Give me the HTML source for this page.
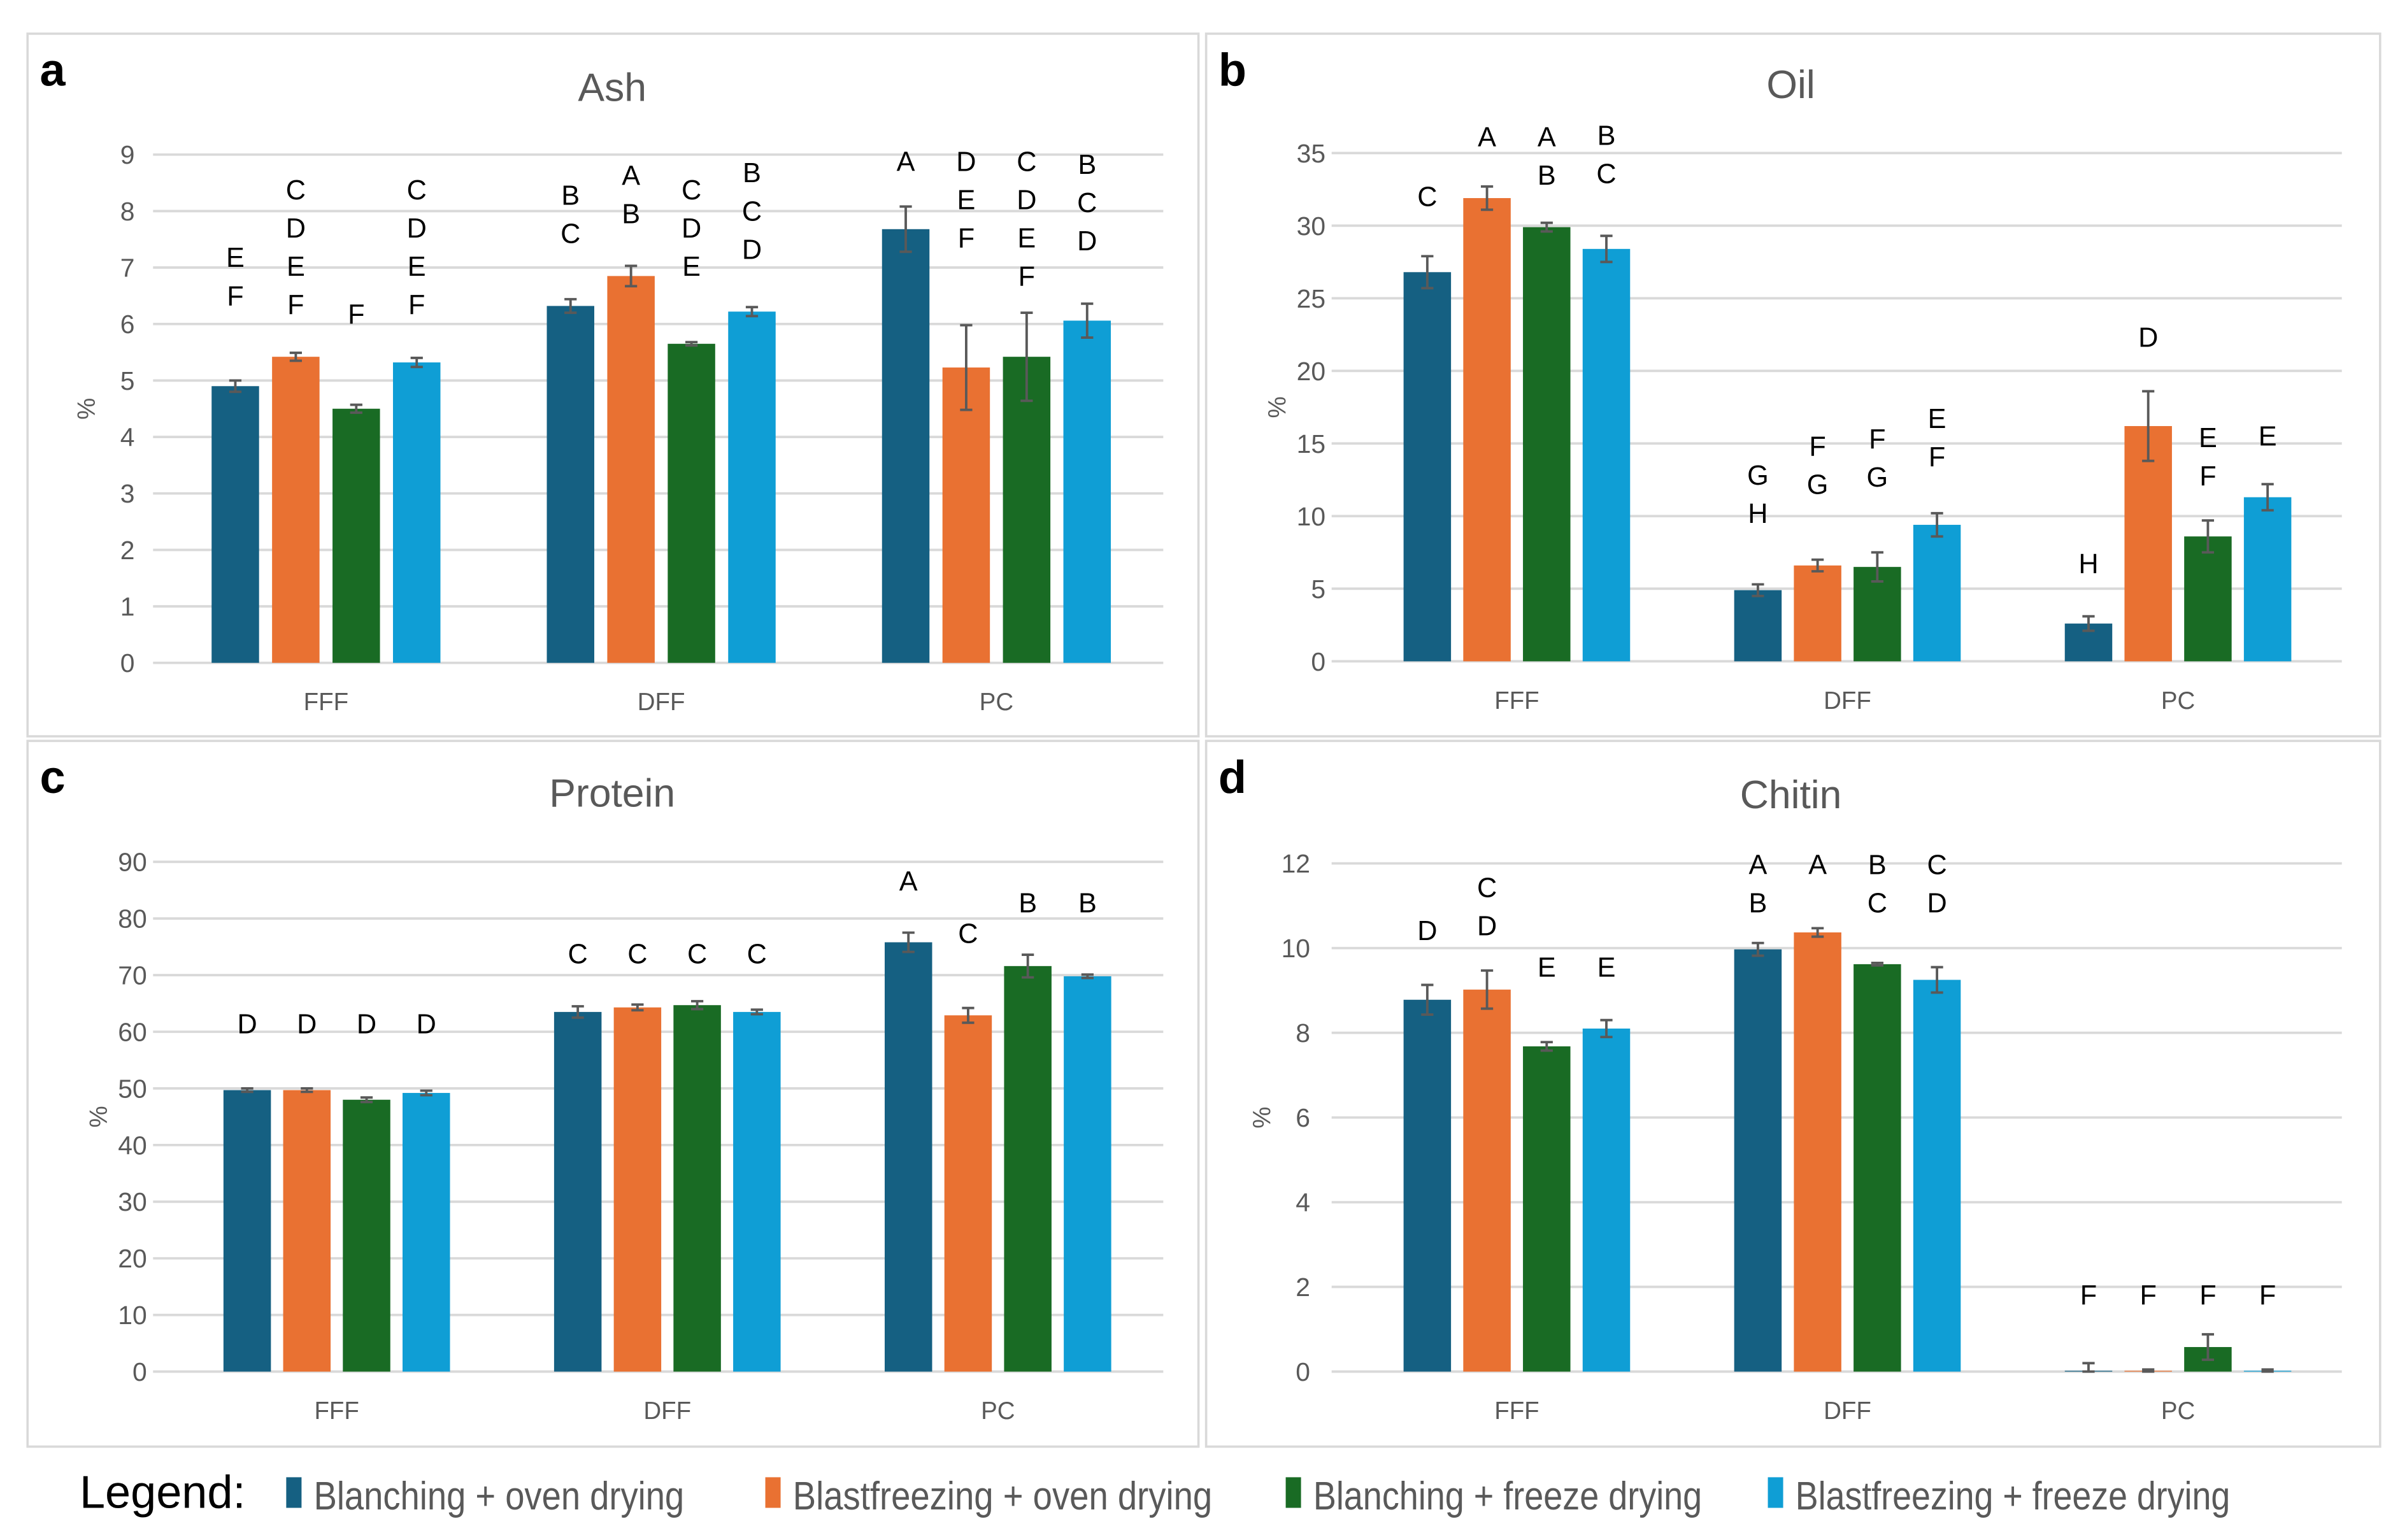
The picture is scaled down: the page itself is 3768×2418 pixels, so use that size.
<!DOCTYPE html>
<html><head><meta charset="utf-8"><style>
html,body{margin:0;padding:0;background:#fff;}
svg{display:block;}
text{font-family:"Liberation Sans Narrow","Liberation Sans",sans-serif;}
</style></head><body>
<svg id="fig" width="3768" height="2418" viewBox="0 0 1568 1006" preserveAspectRatio="none" xmlns="http://www.w3.org/2000/svg">
<rect x="0" y="0" width="1568" height="1006" fill="#fff"/>
<g id="root"></g>
</svg>
<script>
const categories = ["FFF","DFF","PC"];
const seriesNames = ["Blanching + oven drying","Blastfreezing + oven drying","Blanching + freeze drying","Blastfreezing + freeze drying"];
const colors = ["#156082","#E97132","#196B24","#0F9ED5"];

const ashValues = [[4.9,6.32,7.68],[5.42,6.85,5.23],[4.5,5.65,5.42],[5.32,6.22,6.06]];
const ashErrors = [[0.1,0.12,0.4],[0.07,0.18,0.75],[0.07,0.03,0.78],[0.08,0.08,0.3]];
const ashLetters = [["E F","B C","A"],["C D E F","A B","D E F"],["F","C D E","C D E F"],["C D E F","B C D","B C D"]];
const ashLetterTop = [[7.2,8.3,8.9],[8.4,8.65,8.9],[6.2,8.4,8.9],[8.4,8.7,8.85]];
const ashTicks = [0,1,2,3,4,5,6,7,8,9];

const oilValues = [[26.8,4.9,2.6],[31.9,6.6,16.2],[29.9,6.5,8.6],[28.4,9.4,11.3]];
const oilErrors = [[1.1,0.4,0.5],[0.8,0.4,2.4],[0.3,1.0,1.1],[0.9,0.8,0.9]];
const oilLetters = [["C","G H","H"],["A","F G","D"],["A B","F G","E F"],["B C","E F","E"]];
const oilLetterTop = [[32.1,12.9,6.8],[36.2,14.9,22.4],[36.2,15.4,15.5],[36.3,16.8,15.6]];
const oilTicks = [0,5,10,15,20,25,30,35];

const proteinValues = [[49.7,63.5,75.8],[49.7,64.3,62.9],[48.0,64.7,71.6],[49.2,63.5,69.8]];
const proteinErrors = [[0.3,1.0,1.7],[0.3,0.5,1.3],[0.4,0.7,2.0],[0.4,0.4,0.3]];
const proteinLetters = [["D","C","A"],["D","C","C"],["D","C","B"],["D","C","B"]];
const proteinLetterTop = [[61.6,74,86.8],[61.6,74,77.6],[61.6,74,83],[61.6,74,83]];
const proteinTicks = [0,10,20,30,40,50,60,70,80,90];

const chitinValues = [[8.78,9.97,0.02],[9.02,10.37,0.02],[7.68,9.62,0.58],[8.1,9.25,0.02]];
const chitinErrors = [[0.35,0.15,0.18],[0.45,0.1,0.03],[0.1,0.03,0.3],[0.2,0.3,0.03]];
const chitinLetters = [["D","A B","F"],["C D","A","F"],["E","B C","F"],["E","C D","F"]];
const chitinLetterTop = [[10.44,12.0,1.84],[11.46,12.0,1.84],[9.58,12.0,1.84],[9.58,12.0,1.84]];
const chitinTicks = [0,2,4,6,8,10,12];

const NS = "http://www.w3.org/2000/svg";
const root = document.getElementById('root');
function mk(tag, attrs, parent){const e=document.createElementNS(NS,tag);for(const k in attrs)e.setAttribute(k,attrs[k]);(parent||root).appendChild(e);return e;}

function panel(cfg){
  const g = mk('g',{});
  
  
  const box = mk('rect',{x:cfg.bx,y:cfg.by,width:cfg.bw,height:cfg.bh,fill:'#fff',stroke:'#d9d9d9','stroke-width':1.5},g);
  
  
  const max = cfg.ticks[cfg.ticks.length-1];
  const y = v => cfg.y0 - (v/max)*(cfg.y0-cfg.yTop);
  const catX = i => cfg.c0 + i*cfg.cs;
  const barX = (c,s) => catX(c) + (s-1.5)*cfg.bs;
  cfg.ticks.forEach(t=>{
    const l = mk('line',{x1:cfg.gx0,x2:cfg.gx1,y1:y(t),y2:y(t),stroke:'#d9d9d9','stroke-width':1.6},g);
    
    
    const tx = mk('text',{x:cfg.tickX,y:y(t)+6,'text-anchor':'end','font-size':17,fill:'#595959'},g);
    tx.textContent = t;
    
    
  });
  const yt = mk('text',{x:0,y:0,'text-anchor':'middle','font-size':16,fill:'#595959',transform:`translate(${cfg.tickX-26},${(cfg.y0+cfg.yTop)/2}) rotate(-90)`},g);
  yt.textContent='%';
  
  
  const ti = mk('text',{x:cfg.titleX,y:cfg.titleY,'text-anchor':'middle','font-size':26,fill:'#595959'},g);
  ti.textContent = cfg.title;
  
  
  const pl = mk('text',{x:cfg.bx+8,y:cfg.by+34,'font-size':30,'font-weight':'bold',fill:'#000','font-family':'Liberation Sans, sans-serif'},g);
  pl.textContent = cfg.letter;
  
  
  categories.forEach((c,i)=>{
    const t = mk('text',{x:catX(i),y:cfg.y0+31,'text-anchor':'middle','font-size':16,fill:'#595959'},g);
    t.textContent=c;
    
    
  });
  for(let s=0;s<4;s++)for(let c=0;c<3;c++){
    const v=cfg.values[s][c], e=cfg.errors[s][c], cx=barX(c,s), w=31;
    const r = mk('rect',{x:cx-w/2,y:y(v),width:w,height:cfg.y0-y(v),fill:colors[s]},g);
    
    
    const eb = mk('path',{d:`M${cx},${y(v+e)}V${y(Math.max(0,v-e))}M${cx-4},${y(v+e)}H${cx+4}M${cx-4},${y(Math.max(0,v-e))}H${cx+4}`,stroke:'#595959','stroke-width':1.6,fill:'none'},g);
    
    
    const parts = cfg.letters[s][c].split(' ');
    const top = y(cfg.letterTop[s][c]);
    parts.forEach((p,k)=>{
      const t = mk('text',{x:cx,y:top+7+k*25,'text-anchor':'middle','font-size':18,fill:'#000','font-family':'Liberation Sans, sans-serif'},g);
      t.textContent=p;
      
      
    });
  }
}
panel({name:'ash',letter:'a',title:'Ash',bx:18,by:22,bw:765,bh:459,y0:433,yTop:101,gx0:100,gx1:760,tickX:88,c0:213,cs:219,bs:39.5,titleX:400,titleY:66,ticks:ashTicks,values:ashValues,errors:ashErrors,letters:ashLetters,letterTop:ashLetterTop});
panel({name:'oil',letter:'b',title:'Oil',bx:788,by:22,bw:767,bh:459,y0:432,yTop:100,gx0:870,gx1:1530,tickX:866,c0:991,cs:216,bs:39,titleX:1170,titleY:64,ticks:oilTicks,values:oilValues,errors:oilErrors,letters:oilLetters,letterTop:oilLetterTop});
panel({name:'protein',letter:'c',title:'Protein',bx:18,by:484,bw:765,bh:461,y0:896,yTop:563,gx0:100,gx1:760,tickX:96,c0:220,cs:216,bs:39,titleX:400,titleY:527,ticks:proteinTicks,values:proteinValues,errors:proteinErrors,letters:proteinLetters,letterTop:proteinLetterTop});
panel({name:'chitin',letter:'d',title:'Chitin',bx:788,by:484,bw:767,bh:461,y0:896,yTop:564,gx0:870,gx1:1530,tickX:856,c0:991,cs:216,bs:39,titleX:1170,titleY:528,ticks:chitinTicks,values:chitinValues,errors:chitinErrors,letters:chitinLetters,letterTop:chitinLetterTop});

const lg = mk('g',{});


const lt = mk('text',{x:52,y:985,'font-size':30,fill:'#000','font-family':'Liberation Sans, sans-serif'},lg);
lt.textContent='Legend:';


const legX = [187,500,840,1155];
const legEnd = [447,792,1112,1457];
seriesNames.forEach((n,i)=>{
  const sw = mk('rect',{x:legX[i],y:965,width:10,height:20,fill:colors[i]},lg);
  
  
  const t = mk('text',{x:legX[i]+18,y:986,'font-size':26,fill:'#595959',textLength:legEnd[i]-legX[i]-18,lengthAdjust:'spacingAndGlyphs'},lg);
  t.textContent=n;
  
  
});
</script>
</body></html>
